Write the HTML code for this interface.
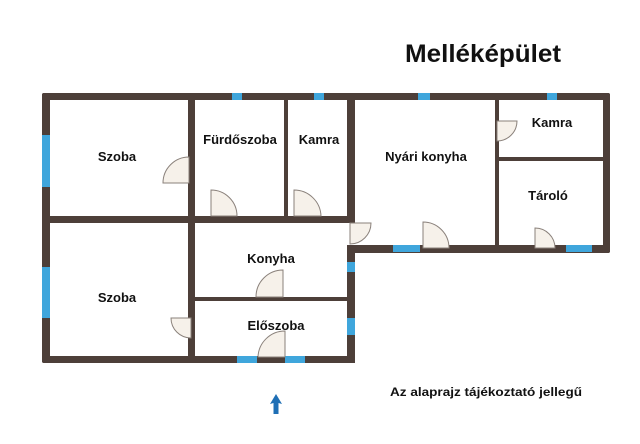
<!DOCTYPE html>
<html><head><meta charset="utf-8"><style>
html,body{margin:0;padding:0;background:#fff;}
svg{display:block;}
text{font-family:"Liberation Sans",sans-serif;font-weight:bold;fill:#111;}
</style></head><body>
<svg width="640" height="444" viewBox="0 0 640 444" xmlns="http://www.w3.org/2000/svg">
<rect width="640" height="444" fill="#fff"/>
<text x="483" y="62" font-size="25" text-anchor="middle" textLength="156" lengthAdjust="spacingAndGlyphs">Melléképület</text>
<g fill="#4d3f39">
<!-- left building outer -->
<rect x="42" y="93" width="568" height="7" rx="2"/>
<rect x="42" y="93" width="8" height="270" rx="2"/>
<rect x="42" y="356" width="313" height="7" rx="2"/>
<rect x="347" y="93" width="8" height="130"/>
<rect x="347" y="245" width="8" height="118"/>
<rect x="42" y="216" width="313" height="7"/>
<rect x="188" y="93" width="7" height="270"/>
<rect x="284" y="93" width="4" height="130"/>
<rect x="192" y="297" width="160" height="4"/>
<!-- nyari -->
<rect x="603" y="93" width="7" height="160" rx="2"/>
<rect x="347" y="245" width="263" height="8" rx="2"/>
<rect x="495" y="93" width="4" height="156"/>
<rect x="495" y="157" width="112" height="4"/>
</g>
<g fill="#3fa6dc">
<rect x="232" y="93" width="10" height="7"/>
<rect x="314" y="93" width="10" height="7"/>
<rect x="418" y="93" width="12" height="7"/>
<rect x="547" y="93" width="10" height="7"/>
<rect x="42" y="135" width="8" height="52"/>
<rect x="42" y="267" width="8" height="51"/>
<rect x="237" y="356" width="20" height="7"/>
<rect x="285" y="356" width="20" height="7"/>
<rect x="347" y="262" width="8" height="10"/>
<rect x="347" y="318" width="8" height="17"/>
<rect x="393" y="245" width="27" height="7"/>
<rect x="566" y="245" width="26" height="7"/>
</g>
<g fill="#f6f1ea" stroke="#8a817b" stroke-width="1">
<path d="M189 183 L189 157 A26 26 0 0 0 163 183 Z"/>
<path d="M211 216 L211 190 A26 26 0 0 1 237 216 Z"/>
<path d="M294 216 L294 190 A27 27 0 0 1 321 216 Z"/>
<path d="M283 297 L283 270 A27 27 0 0 0 256 297 Z"/>
<path d="M285 357 L285 331 A27 27 0 0 0 258 357 Z"/>
<path d="M191 318 L171 318 A20 20 0 0 0 191 338 Z"/>
<path d="M350 223 L371 223 A21 21 0 0 1 350 244 Z"/>
<path d="M423 248 L423 222 A26 26 0 0 1 449 248 Z"/>
<path d="M497 121 L517 121 A20 20 0 0 1 497 141 Z"/>
<path d="M535 248 L535 228 A20 20 0 0 1 555 248 Z"/>
</g>
<g font-size="13" text-anchor="middle">
<text x="117" y="161">Szoba</text>
<text x="240" y="144">Fürdőszoba</text>
<text x="319" y="144">Kamra</text>
<text x="117" y="302">Szoba</text>
<text x="271" y="263">Konyha</text>
<text x="276" y="330">Előszoba</text>
<text x="426" y="161">Nyári konyha</text>
<text x="552" y="127">Kamra</text>
<text x="548" y="200">Tároló</text>
</g>
<text x="486" y="396" font-size="12" text-anchor="middle" textLength="192" lengthAdjust="spacingAndGlyphs">Az alaprajz tájékoztató jellegű</text>
<path d="M276 394 L282 404 L278.5 403 L278.5 414 L273.5 414 L273.5 403 L270 404 Z" fill="#1f6fb5"/>
</svg>
</body></html>
